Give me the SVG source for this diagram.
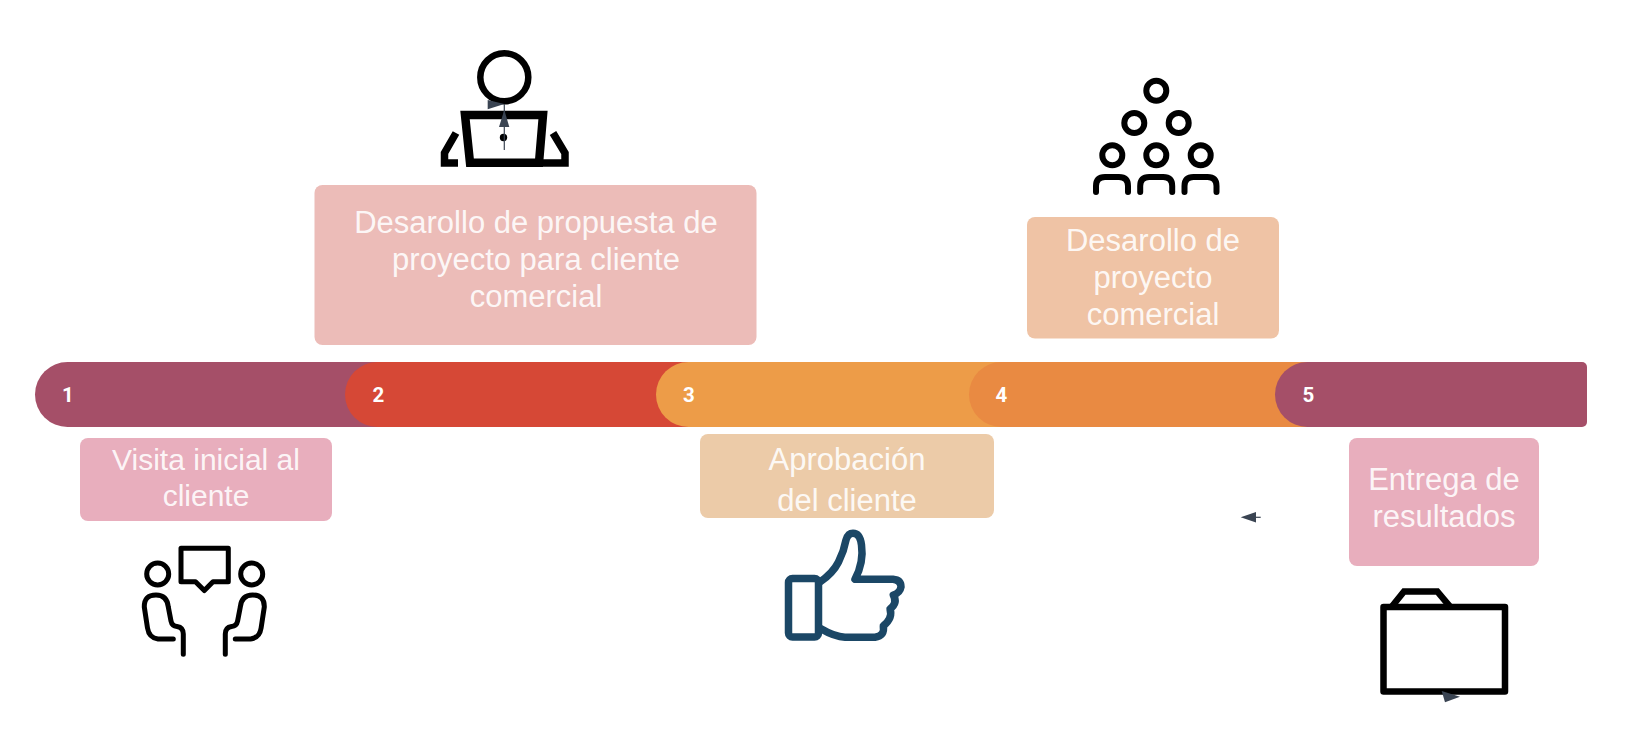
<svg xmlns="http://www.w3.org/2000/svg" width="1627" height="745" viewBox="0 0 1627 745">
<style>
text{font-family:"Liberation Sans",Arial,sans-serif}
.lbl{font-size:31px;fill:#fff;fill-opacity:.9;text-anchor:middle}
.sm{font-size:30px}
.num{font-family:Roboto,"Liberation Sans",sans-serif;font-weight:700;font-size:20.5px;fill:#fff;text-anchor:middle}
.ic{fill:none;stroke:#000;stroke-linecap:round;stroke-linejoin:round}
.ah{fill:#3a4452;stroke:none}
.cn{fill:none;stroke:#3a4452;stroke-width:1.2}
</style>
<rect width="1627" height="745" fill="#fff"/>
<g id="bar">
<g id="seg1"><path d="M67.500 362H400V427H67.500a32.500 32.500 0 0 1 0-65Z" fill="#a54f68"/><text class="num" x="68" y="401.700">1</text></g>
<g id="seg2"><path d="M377.500 362H710V427H377.500a32.500 32.500 0 0 1 0-65Z" fill="#d64836"/><text class="num" x="378.500" y="401.700">2</text></g>
<g id="seg3"><path d="M688.500 362H1020V427H688.500a32.500 32.500 0 0 1 0-65Z" fill="#ed9c48"/><text class="num" x="689" y="401.700">3</text></g>
<g id="seg4"><path d="M1001.500 362H1330V427H1001.500a32.500 32.500 0 0 1 0-65Z" fill="#e98a42"/><text class="num" x="1001.500" y="401.700">4</text></g>
<g id="seg5"><path d="M1307.500 362H1582a5 5 0 0 1 5 5V422a5 5 0 0 1-5 5H1307.500a32.500 32.500 0 0 1 0-65Z" fill="#a54f68"/><text class="num" x="1308.500" y="401.700">5</text></g>
</g>
<g id="box-visita">
<rect x="80" y="438" width="252" height="83" rx="8" fill="#e8aebd"/>
<text class="lbl sm" x="206" y="469.500">Visita inicial al</text>
<text class="lbl sm" x="206" y="506">cliente</text>
</g>
<g id="box-propuesta">
<rect x="314.500" y="185" width="442" height="160" rx="8" fill="#ecbcb8"/>
<text class="lbl" x="536" y="232.500">Desarollo de propuesta de</text>
<text class="lbl" x="536" y="269.500">proyecto para cliente</text>
<text class="lbl" x="536" y="307">comercial</text>
</g>
<g id="box-aprobacion">
<rect x="700" y="434" width="294" height="84" rx="8" fill="#eccba8"/>
<text class="lbl" x="847" y="470">Aprobación</text>
<text class="lbl" x="847" y="510.500">del cliente</text>
</g>
<g id="box-desarollo">
<rect x="1027" y="217" width="252" height="121.500" rx="8" fill="#efc3a5"/>
<text class="lbl" x="1153" y="250.500">Desarollo de</text>
<text class="lbl" x="1153" y="288">proyecto</text>
<text class="lbl" x="1153" y="325">comercial</text>
</g>
<g id="box-entrega">
<rect x="1349" y="438" width="190" height="128" rx="8" fill="#e8aebd"/>
<text class="lbl" x="1444" y="490">Entrega de</text>
<text class="lbl" x="1444" y="527">resultados</text>
</g>
<g id="icon-presenter">
<circle cx="504.300" cy="77.300" r="24" fill="none" stroke="#000" stroke-width="6.500"/>
<path d="M465 115H543L539 162.700H470Z" fill="none" stroke="#000" stroke-width="8.500" stroke-linejoin="miter"/>
<path d="M456 133L444.500 153V163H458M470 163H565V153L553 133" fill="none" stroke="#000" stroke-width="7.500"/>
<circle cx="503.500" cy="137.500" r="3.700" fill="#000"/>
</g>
<g id="icon-people" class="ic" stroke-width="6">
<circle cx="1156.300" cy="90.700" r="10"/>
<circle cx="1134.300" cy="123" r="10"/>
<circle cx="1178.700" cy="123" r="10"/>
<circle cx="1112.300" cy="155.300" r="10"/>
<circle cx="1156.300" cy="155.300" r="10"/>
<circle cx="1200.700" cy="155.300" r="10"/>
<path d="M1096 192V186q0-9 9-9h14q9 0 9 9v6"/>
<path d="M1140.200 192V186q0-9 9-9h14q9 0 9 9v6"/>
<path d="M1184.500 192V186q0-9 9-9h14q9 0 9 9v6"/>
</g>
<g id="icon-talk" class="ic" stroke-width="5">
<path d="M181 548.300H228.300V581.700H213L204.300 590.500L195.500 581.700H181Z"/>
<circle cx="157.700" cy="574" r="11"/>
<circle cx="251.700" cy="574" r="11"/>
<path d="M173.300 639H158Q149 638 147.500 628L144.300 607Q144 595 156 595Q167 595 168.300 607L171 621Q172 626 177 626.500Q183.300 627.500 183.300 634V654.300"/>
<path d="M235.300 639H250.600Q259.600 638 261.100 628L264.300 607Q264.600 595 252.600 595Q241.600 595 240.300 607L237.600 621Q236.600 626 231.600 626.500Q225.300 627.500 225.300 634V654.300"/>
</g>
<g id="icon-thumb" fill="none" stroke="#1b4766" stroke-width="7.500" stroke-linejoin="round" stroke-linecap="round">
<rect x="788.500" y="578.500" width="30" height="58.500" rx="4"/>
<path d="M820 582Q833 573 838.500 562Q844 551 846 540Q848 533.300 853 533.300Q860 533.300 861.500 545Q864 562 855 579.300H893Q901 580 901 587Q900 593 893.300 595Q898 603 890 609Q893 618 883.300 626Q885 636 875 637.300H845Q835 637 820 628.300"/>
</g>
<g id="icon-folder" fill="none" stroke="#000" stroke-width="6.500">
<rect x="1383.500" y="607" width="121.500" height="84.500" stroke-linejoin="round"/>
<path d="M1391.700 606.700L1404 591.500H1437.300L1450 606.700"/>
</g>
<g id="connectors">
<path class="cn" d="M504.300 104V150"/>
<polygon class="ah" points="487.700,100 487.700,109.300 504.300,104"/>
<polygon class="ah" points="504.300,110 499,127 509.300,127"/>
<path class="cn" d="M1250 517.300H1260.700"/>
<polygon class="ah" points="1240.700,517.300 1256,512 1256,522.500"/>
<polygon class="ah" points="1441.700,691 1460,696.700 1445,702.300"/>
</g>
</svg>
